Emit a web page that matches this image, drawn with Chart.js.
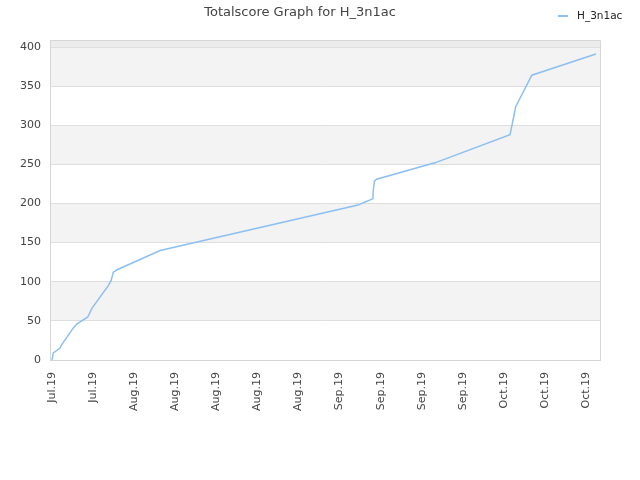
<!DOCTYPE html>
<html>
<head>
<meta charset="utf-8">
<script src="https://cdn.jsdelivr.net/npm/chart.js@4"></script>
<style>
  html, body { margin: 0; padding: 0; background: #fff; }
  #wrap { width: 640px; height: 480px; }
</style>
</head>
<body>
<div id="wrap"><canvas id="chart-score"></canvas></div>
<script>
// data (x = position index, labels every 10)
const xLabels = ['Jul.19', 'Jul.19', 'Aug.19', 'Aug.19', 'Aug.19', 'Aug.19', 'Aug.19',
  'Sep.19', 'Sep.19', 'Sep.19', 'Sep.19', 'Oct.19', 'Oct.19', 'Oct.19'];
const scoreX = [0, 0.3, 1.9, 2.4, 5.2, 6.0, 8.7, 9.7, 13.7, 14.4, 14.9, 15.7, 26.3,
  74.5, 76.2, 78.1, 78.2, 78.5, 79.0, 93.2, 111.5, 112.9, 116.8, 132.4];
const scoreY = [0, 9, 15, 20, 41, 46, 55, 66, 95, 102, 112, 115, 140,
  198, 202, 206, 217, 229, 231, 252, 288, 324, 364, 391];
const yTicks = [0, 50, 100, 150, 200, 250, 300, 350, 400];
const seriesName = 'H_3n1ac';

const lineColor = '#8cbff2';
const fontFam = '"DejaVu Sans", Verdana, sans-serif';

// striped background + frame
const bandsPlugin = {
  id: 'bands',
  beforeDraw(chart) {
    const {ctx, chartArea: a, scales: {y}} = chart;
    ctx.save();
    ctx.fillStyle = '#ececec';
    ctx.fillRect(a.left, a.top, a.right - a.left, y.getPixelForValue(400) - a.top);
    for (let i = 0; i < yTicks.length - 1; i++) {
      if (i % 2 === 1) {
        const t = y.getPixelForValue(yTicks[i + 1]);
        const b = y.getPixelForValue(yTicks[i]);
        ctx.fillStyle = '#f3f3f3';
        ctx.fillRect(a.left, t, a.right - a.left, b - t);
      }
    }
    ctx.restore();
  },
  afterDraw(chart) {
    const {ctx, chartArea: a} = chart;
    ctx.save();
    ctx.strokeStyle = '#d6d6d6';
    ctx.lineWidth = 1;
    ctx.beginPath();
    ctx.moveTo(a.left, a.top + 0.5);
    ctx.lineTo(a.right + 0.5, a.top + 0.5);
    ctx.lineTo(a.right + 0.5, a.bottom);
    ctx.stroke();
    ctx.restore();
  }
};

// legend at the top right, same row as title
const legendPlugin = {
  id: 'sideLegend',
  afterDraw(chart) {
    const ctx = chart.ctx;
    const ds = chart.data.datasets[0];
    ctx.save();
    ctx.strokeStyle = ds.borderColor;
    ctx.lineWidth = 2;
    ctx.beginPath();
    ctx.moveTo(558, 16);
    ctx.lineTo(568, 16);
    ctx.stroke();
    ctx.fillStyle = '#222';
    ctx.font = '10.5px ' + fontFam;
    ctx.textBaseline = 'middle';
    ctx.fillText(ds.label, 577, 16);
    ctx.restore();
  }
};

const chartScore = document.getElementById('chart-score');

new Chart(chartScore, {
  type: 'line',
  data: {
    datasets: [{
      label: seriesName,
      data: scoreX.map((x, i) => ({x: x, y: scoreY[i]})),
      borderColor: lineColor,
      backgroundColor: lineColor,
      borderWidth: 1.5,
      pointRadius: 0,
      tension: 0
    }]
  },
  options: {
    responsive: true,
    maintainAspectRatio: false,
    animation: false,
    layout: {padding: {left: 0, right: 40, top: 0, bottom: 0}},
    plugins: {
      legend: {display: false},
      tooltip: {enabled: false},
      title: {
        display: true,
        text: 'Totalscore Graph for ' + seriesName,
        color: '#444',
        font: {family: fontFam, size: 13, weight: 'normal'},
        padding: {top: 5, bottom: 19.4}
      }
    },
    scales: {
      x: {
        type: 'linear',
        min: -0.5,
        max: 133.4,
        afterBuildTicks: (scale) => {
          scale.ticks = xLabels.map((_, i) => ({value: i * 10}));
        },
        afterFit: (scale) => { scale.height = 120; },
        grid: {display: false, drawTicks: false},
        border: {color: '#d6d6d6'},
        ticks: {
          minRotation: 90,
          maxRotation: 90,
          autoSkip: false,
          padding: 12,
          color: '#444',
          font: {family: fontFam, size: 11},
          callback: (v, i) => xLabels[i]
        }
      },
      y: {
        min: 0,
        max: 409,
        afterBuildTicks: (scale) => {
          scale.ticks = yTicks.map(v => ({value: v}));
        },
        afterFit: (scale) => { scale.width = 50; },
        grid: {color: '#dedede', drawTicks: false},
        border: {color: '#d6d6d6'},
        ticks: {
          padding: 9,
          color: '#444',
          font: {family: fontFam, size: 11}
        }
      }
    }
  },
  plugins: [bandsPlugin, legendPlugin]
});
</script>
</body>
</html>
